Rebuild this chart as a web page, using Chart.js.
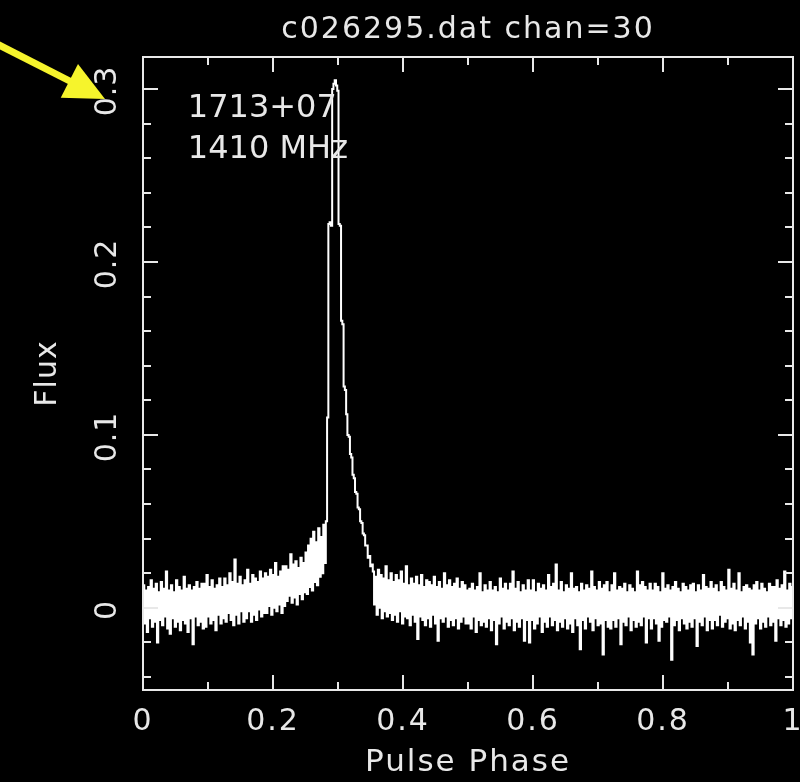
<!DOCTYPE html>
<html>
<head>
<meta charset="utf-8">
<title>c026295.dat chan=30</title>
<script src="https://cdn.jsdelivr.net/npm/chart.js@4/dist/chart.umd.min.js"></script>
<style>
  html, body { margin: 0; padding: 0; background: #000; }
  canvas { display: block; }
</style>
</head>
<body>
<canvas id="profile" width="800" height="782"></canvas>
<script>
'use strict';

const chartTitle = 'c026295.dat chan=30';
const xTitle = 'Pulse Phase';
const yTitle = 'Flux';
const annotations = [
  { text: '1713+07', phase: 0.069, flux: 0.2837 },
  { text: '1410 MHz', phase: 0.069, flux: 0.2600 },
];

const xTicks = [0, 0.2, 0.4, 0.6, 0.8, 1];
const xMinorTicks = [0.1, 0.3, 0.5, 0.7, 0.9];
const yTicks = [0, 0.1, 0.2, 0.3];
const yMinorTicks = [-0.04, -0.02, 0.02, 0.04, 0.06, 0.08, 0.12, 0.14, 0.16, 0.18, 0.22, 0.24, 0.26, 0.28];

// profile, 512 phase bins, split by region
const fluxLead = [ // bins 0-127
  0.013, -0.009, 0.010, -0.014, 0.012, -0.006, 0.016, -0.011, 0.011, -0.008, 0.014, -0.020, 0.009, -0.007, 0.015, -0.010,
  0.011, -0.005, 0.021, -0.012, 0.010, -0.015, 0.013, -0.006, 0.009, -0.011, 0.016, -0.008, 0.012, -0.013, 0.010, -0.007,
  0.018, -0.009, 0.011, -0.014, 0.013, -0.006, 0.010, -0.021, 0.012, -0.005, 0.015, -0.010, 0.011, -0.008, 0.014, -0.012,
  0.014, -0.011, 0.019, -0.005, 0.012, -0.009, 0.016, -0.007, 0.011, -0.013, 0.013, -0.004, 0.017, -0.009, 0.012, -0.006,
  0.017, -0.008, 0.013, -0.003, 0.020, -0.007, 0.015, -0.010, 0.028, -0.004, 0.014, -0.009, 0.018, -0.002, 0.013, -0.008,
  0.016, -0.006, 0.022, -0.002, 0.014, -0.008, 0.019, -0.004, 0.017, -0.007, 0.015, -0.001, 0.021, -0.005, 0.017, -0.003,
  0.020, -0.003, 0.018, 0.001, 0.022, -0.004, 0.019, 0.000, 0.026, -0.002, 0.018, 0.002, 0.021, -0.003, 0.024, 0.001,
  0.024, 0.004, 0.022, 0.007, 0.031, 0.003, 0.025, 0.006, 0.027, 0.002, 0.023, 0.008, 0.029, 0.005, 0.026, 0.009,
];
const fluxRise = [ // bins 128-144
  0.032, 0.008, 0.036, 0.012, 0.040, 0.010, 0.044, 0.015, 0.038, 0.013, 0.046, 0.018, 0.041, 0.020, 0.048, 0.026, 0.050,
];
const fluxPeak = [ // bins 145-180
  0.110, 0.222, 0.223, 0.221, 0.300, 0.303, 0.305, 0.302, 0.299, 0.222, 0.221, 0.166, 0.164, 0.128, 0.126,
  0.112, 0.100, 0.099, 0.089, 0.087, 0.077, 0.075, 0.067, 0.066, 0.058, 0.057, 0.050, 0.049, 0.043, 0.042,
  0.036, 0.036, 0.029, 0.030, 0.024, 0.025,
];
const fluxTrail = [ // bins 181-255
  0.021, 0.002, 0.018, -0.004, 0.022, 0.000, 0.019, -0.006, 0.017, -0.002, 0.024, -0.005, 0.016, -0.003, 0.020, -0.007,
  0.015, -0.004, 0.019, -0.008, 0.016, -0.002, 0.021, -0.009, 0.014, -0.005, 0.024, -0.006, 0.013, -0.010, 0.017, -0.004,
  0.014, -0.008, 0.018, -0.018, 0.013, -0.005, 0.019, -0.007, 0.012, -0.010, 0.016, -0.006, 0.015, -0.011, 0.013, -0.004,
  0.018, -0.009, 0.012, -0.019, 0.015, -0.006, 0.011, -0.008, 0.020, -0.005, 0.013, -0.011, 0.016, -0.007, 0.012, -0.010,
  0.014, -0.006, 0.017, -0.012, 0.011, -0.008, 0.015, -0.005, 0.013, -0.009, 0.010,
];
const fluxFlatA = [ // bins 256-383
  -0.009, 0.011, -0.012, 0.014, -0.005, 0.010, -0.014, 0.012, -0.007, 0.020, -0.010, 0.009, -0.008, 0.013, -0.011, 0.010,
  -0.006, 0.015, -0.013, 0.010, -0.007, 0.012, -0.021, 0.009, -0.009, 0.017, -0.005, 0.011, -0.012, 0.014, -0.008, 0.010,
  -0.010, 0.014, -0.006, 0.021, -0.013, 0.011, -0.008, 0.015, -0.011, 0.009, -0.006, 0.013, -0.019, 0.010, -0.007, 0.016,
  -0.020, 0.010, -0.007, 0.016, -0.012, 0.009, -0.009, 0.014, -0.005, 0.011, -0.014, 0.013, -0.008, 0.010, -0.011, 0.019,
  -0.005, 0.012, -0.010, 0.014, -0.007, 0.025, -0.013, 0.010, -0.008, 0.015, -0.011, 0.009, -0.006, 0.013, -0.012, 0.011,
  -0.009, 0.020, -0.014, 0.011, -0.006, 0.012, -0.010, 0.009, -0.024, 0.014, -0.007, 0.010, -0.012, 0.013, -0.005, 0.011,
  -0.008, 0.021, -0.013, 0.012, -0.006, 0.010, -0.010, 0.015, -0.009, 0.011, -0.027, 0.013, -0.007, 0.015, -0.011, 0.009,
  -0.012, 0.013, -0.007, 0.020, -0.011, 0.010, -0.006, 0.012, -0.021, 0.011, -0.008, 0.014, -0.010, 0.009, -0.005, 0.013,
];
const fluxFlatB = [ // bins 384-511
  -0.013, 0.011, -0.007, 0.009, -0.011, 0.021, -0.008, 0.013, -0.010, 0.015, -0.005, 0.012, -0.020, 0.010, -0.006, 0.014,
  -0.012, 0.010, -0.006, 0.014, -0.009, 0.012, -0.019, 0.009, -0.011, 0.020, -0.007, 0.011, -0.008, 0.013, -0.005, 0.010,
  -0.030, 0.012, -0.010, 0.015, -0.007, 0.011, -0.013, 0.009, -0.006, 0.014, -0.009, 0.012, -0.012, 0.010, -0.008, 0.013,
  -0.011, 0.014, -0.006, 0.009, -0.022, 0.013, -0.008, 0.010, -0.010, 0.019, -0.005, 0.012, -0.013, 0.011, -0.007, 0.015,
  -0.012, 0.011, -0.007, 0.013, -0.010, 0.009, -0.004, 0.015, -0.011, 0.012, -0.008, 0.010, -0.006, 0.022, -0.012, 0.011,
  -0.009, 0.014, -0.013, 0.010, -0.007, 0.020, -0.010, 0.009, -0.005, 0.012, -0.012, 0.013, -0.008, 0.011, -0.020, 0.010,
  -0.027, 0.013, -0.009, 0.015, -0.006, 0.010, -0.012, 0.014, -0.008, 0.011, -0.011, 0.009, -0.005, 0.014, -0.010, 0.012,
  -0.008, 0.012, -0.019, 0.016, -0.006, 0.011, -0.010, 0.013, -0.007, 0.021, -0.011, 0.010, -0.009, 0.014, -0.006, 0.012,
];

const flux = [...fluxLead, ...fluxRise, ...fluxPeak, ...fluxTrail, ...fluxFlatA, ...fluxFlatB];
const bins = flux.length;
// bin centres in phase
const points = flux.map((v, i) => ({ x: (i + 0.5) / bins, y: v }));

const fg = '#e8e8e8';
const family = '"DejaVu Sans", sans-serif';

// pgplot style box: ticks inside on all four sides, rotated y labels
const pgBox = {
  id: 'pgBox',
  beforeDraw(chart) {
    // the pgplot font runs wider than DejaVu
    chart.ctx.letterSpacing = '2px';
  },
  afterDatasetsDraw(chart) {
    const { ctx, chartArea: a, scales: { x, y } } = chart;
    ctx.save();
    ctx.strokeStyle = fg;
    ctx.lineWidth = 2;
    ctx.strokeRect(a.left, a.top, a.width, a.height);
    ctx.beginPath();
    const xTick = (v, len) => {
      const px = Math.round(x.getPixelForValue(v));
      ctx.moveTo(px, a.bottom); ctx.lineTo(px, a.bottom - len);
      ctx.moveTo(px, a.top); ctx.lineTo(px, a.top + len);
    };
    const yTick = (v, len) => {
      const py = Math.round(y.getPixelForValue(v));
      ctx.moveTo(a.left, py); ctx.lineTo(a.left + len, py);
      ctx.moveTo(a.right, py); ctx.lineTo(a.right - len, py);
    };
    xTicks.forEach(v => xTick(v, 15));
    xMinorTicks.forEach(v => xTick(v, 8));
    yTicks.forEach(v => yTick(v, 15));
    yMinorTicks.forEach(v => yTick(v, 8));
    ctx.stroke();
    ctx.restore();
  },
  afterDraw(chart) {
    const { ctx, chartArea: a, scales: { x, y } } = chart;
    ctx.save();
    ctx.fillStyle = fg;
    ctx.textAlign = 'center';
    ctx.textBaseline = 'middle';
    ctx.letterSpacing = '1px';

    // y tick labels, reading upwards
    ctx.font = `30px ${family}`;
    const labelX = a.left - 35;
    for (const v of yTicks) {
      ctx.save();
      ctx.translate(labelX, y.getPixelForValue(v) + 2);
      ctx.rotate(-Math.PI / 2);
      ctx.fillText(String(v), 0, 0);
      ctx.restore();
    }

    // y axis title
    ctx.save();
    ctx.translate(a.left - 95, (a.top + a.bottom) / 2);
    ctx.rotate(-Math.PI / 2);
    ctx.fillText(yTitle, 0, 0);
    ctx.restore();

    // source / frequency labels
    ctx.letterSpacing = '0px';
    ctx.font = `32px ${family}`;
    ctx.textAlign = 'left';
    ctx.textBaseline = 'alphabetic';
    for (const note of annotations) {
      ctx.fillText(note.text, x.getPixelForValue(note.phase), y.getPixelForValue(note.flux));
    }

    // yellow pointer at the 0.3 label
    const tipX = labelX - 3;
    const tipY = y.getPixelForValue(0.3) + 10;
    const ang = 27 * Math.PI / 180;
    const headLen = 40;
    const headHalf = 19;
    const ux = Math.cos(ang), uy = Math.sin(ang);
    const baseX = tipX - ux * headLen, baseY = tipY - uy * headLen;
    ctx.strokeStyle = '#f6f42c';
    ctx.fillStyle = '#f6f42c';
    ctx.lineWidth = 7;
    ctx.beginPath();
    ctx.moveTo(baseX - ux * 140, baseY - uy * 140);
    ctx.lineTo(baseX + ux * 2, baseY + uy * 2);
    ctx.stroke();
    ctx.beginPath();
    ctx.moveTo(tipX, tipY);
    ctx.lineTo(baseX + uy * headHalf, baseY - ux * headHalf);
    ctx.lineTo(baseX - uy * headHalf, baseY + ux * headHalf);
    ctx.closePath();
    ctx.fill();
    ctx.restore();
  }
};

new Chart(document.getElementById('profile'), {
  type: 'line',
  data: {
    datasets: [{
      label: 'Flux',
      data: points,
      borderColor: '#ffffff',
      borderWidth: 2,
      stepped: 'middle',
      pointRadius: 0,
      fill: false,
    }],
  },
  options: {
    responsive: false,
    animation: false,
    devicePixelRatio: 1,
    layout: { padding: { left: 0, right: 7, top: 0, bottom: 0 } },
    scales: {
      x: {
        type: 'linear',
        min: 0,
        max: 1,
        grid: { display: false, drawTicks: false },
        border: { display: false },
        afterBuildTicks: s => { s.ticks = xTicks.map(value => ({ value })); },
        afterFit: s => { s.height = 92; s.paddingLeft = 0; s.paddingRight = 0; },
        ticks: {
          color: fg,
          font: { family, size: 30 },
          padding: 14,
          maxRotation: 0,
          callback: v => String(+v.toFixed(1)),
        },
        title: {
          display: true,
          text: xTitle,
          color: fg,
          font: { family, size: 31 },
          padding: { top: 0, bottom: 0 },
        },
      },
      y: {
        type: 'linear',
        min: -0.0475,
        max: 0.3185,
        grid: { display: false, drawTicks: false },
        border: { display: false },
        ticks: { display: false },
        afterFit: s => { s.width = 143; s.paddingTop = 0; s.paddingBottom = 0; },
      },
    },
    plugins: {
      legend: { display: false },
      tooltip: { enabled: false },
      title: {
        display: true,
        text: chartTitle,
        color: fg,
        fullSize: false,
        font: { family, size: 30, weight: 'normal' },
        padding: { top: 12, bottom: 9 },
      },
    },
  },
  plugins: [pgBox],
});
</script>
</body>
</html>
